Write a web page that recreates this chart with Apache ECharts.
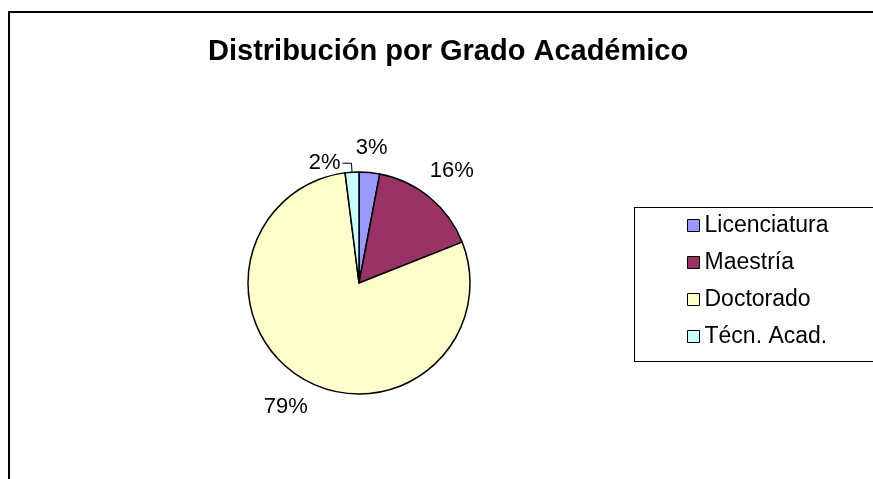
<!DOCTYPE html>
<html>
<head>
<meta charset="utf-8">
<title>Distribución por Grado Académico</title>
<script src="https://cdn.jsdelivr.net/npm/echarts@6/dist/echarts.min.js"></script>
<style>
    html, body {
        margin: 0;
        padding: 0;
        background: #FFFFFF;
        overflow: hidden;
    }
    .frame {
        position: absolute;
        left: 8px;
        top: 11px;
        width: 900px;
        height: 500px;
        border-left: 2px solid #000;
        border-top: 2px solid #000;
    }
    /* legend box runs off the right edge of the picture */
    .legend-box {
        position: absolute;
        left: 634px;
        top: 207px;
        width: 400px;
        height: 153px;
        border: 1px solid #000;
        border-right: none;
    }
    #chart {
        position: absolute;
        left: 0;
        top: 0;
        width: 873px;
        height: 479px;
    }
</style>
</head>
<body>
<div class="frame"></div>
<div class="legend-box"></div>
<div id="chart"></div>
<script>
  const categories = ['Licenciatura', 'Maestría', 'Doctorado', 'Técn. Acad.']
  const values = [3, 16, 79, 2]
  const colors = ['#9999FF', '#993366', '#FFFFCC', '#CCFFFF']

  // pie geometry (px)
  const CX = 359, CY = 283, R = 111
  const GAP = 12
  const total = values.reduce((a, b) => a + b, 0)
  const leaderIndex = categories.indexOf('Técn. Acad.')

  const font = "'Liberation Sans', Arial, sans-serif"

  const pieData = categories.map((name, i) => {
    let item = {name: name, value: values[i], itemStyle: {color: colors[i]}}
    if (i === leaderIndex) {
      // this one is pushed aside with a small leader line
      item.labelLine = {show: true, length: 9, length2: 9, lineStyle: {color: '#000', width: 1}}
    }
    return item
  })

  let myChart = echarts.init(document.getElementById('chart'))
  myChart.setOption({
    animation: false,
    title: {
      text: 'Distribución por Grado Académico',
      left: 203,
      top: 32,
      textStyle: {fontFamily: font, fontSize: 29, fontWeight: 'bold', color: '#000'}
    },
    legend: {
      orient: 'vertical',
      left: 634,
      top: 207,
      data: categories,
      icon: 'rect',
      itemWidth: 12,
      itemHeight: 12,
      itemGap: 14,
      padding: [7, 10, 13, 53],
      itemStyle: {borderColor: '#000', borderWidth: 1},
      textStyle: {fontFamily: font, fontSize: 23, color: '#000'}
    },
    series: [
      {
        name: 'Grado',
        type: 'pie',
        center: [CX, CY],
        radius: R,
        startAngle: 90,
        clockwise: true,
        avoidLabelOverlap: false,
        silent: true,
        itemStyle: {borderColor: '#000', borderWidth: 1.5},
        label: {
          show: true,
          position: 'outside',
          formatter: '{d}%',
          distanceToLabelLine: 2,
          fontFamily: font,
          fontSize: 22,
          color: '#000'
        },
        labelLine: {show: false},
        labelLayout: function (p) {
          if (p.dataIndex === leaderIndex) return {}
          let before = 0
          for (let k = 0; k < p.dataIndex; k++) before += values[k]
          let mid = (before + values[p.dataIndex] / 2) / total * Math.PI * 2
          let ux = Math.sin(mid), uy = -Math.cos(mid)
          let w = p.labelRect.width, h = p.labelRect.height
          let d = R + GAP + Math.abs(ux) * w / 2 + Math.abs(uy) * h / 2
          return {x: CX + ux * d, y: CY + uy * d, align: 'center', verticalAlign: 'middle'}
        },
        data: pieData
      }
    ]
  })
</script>
</body>
</html>
